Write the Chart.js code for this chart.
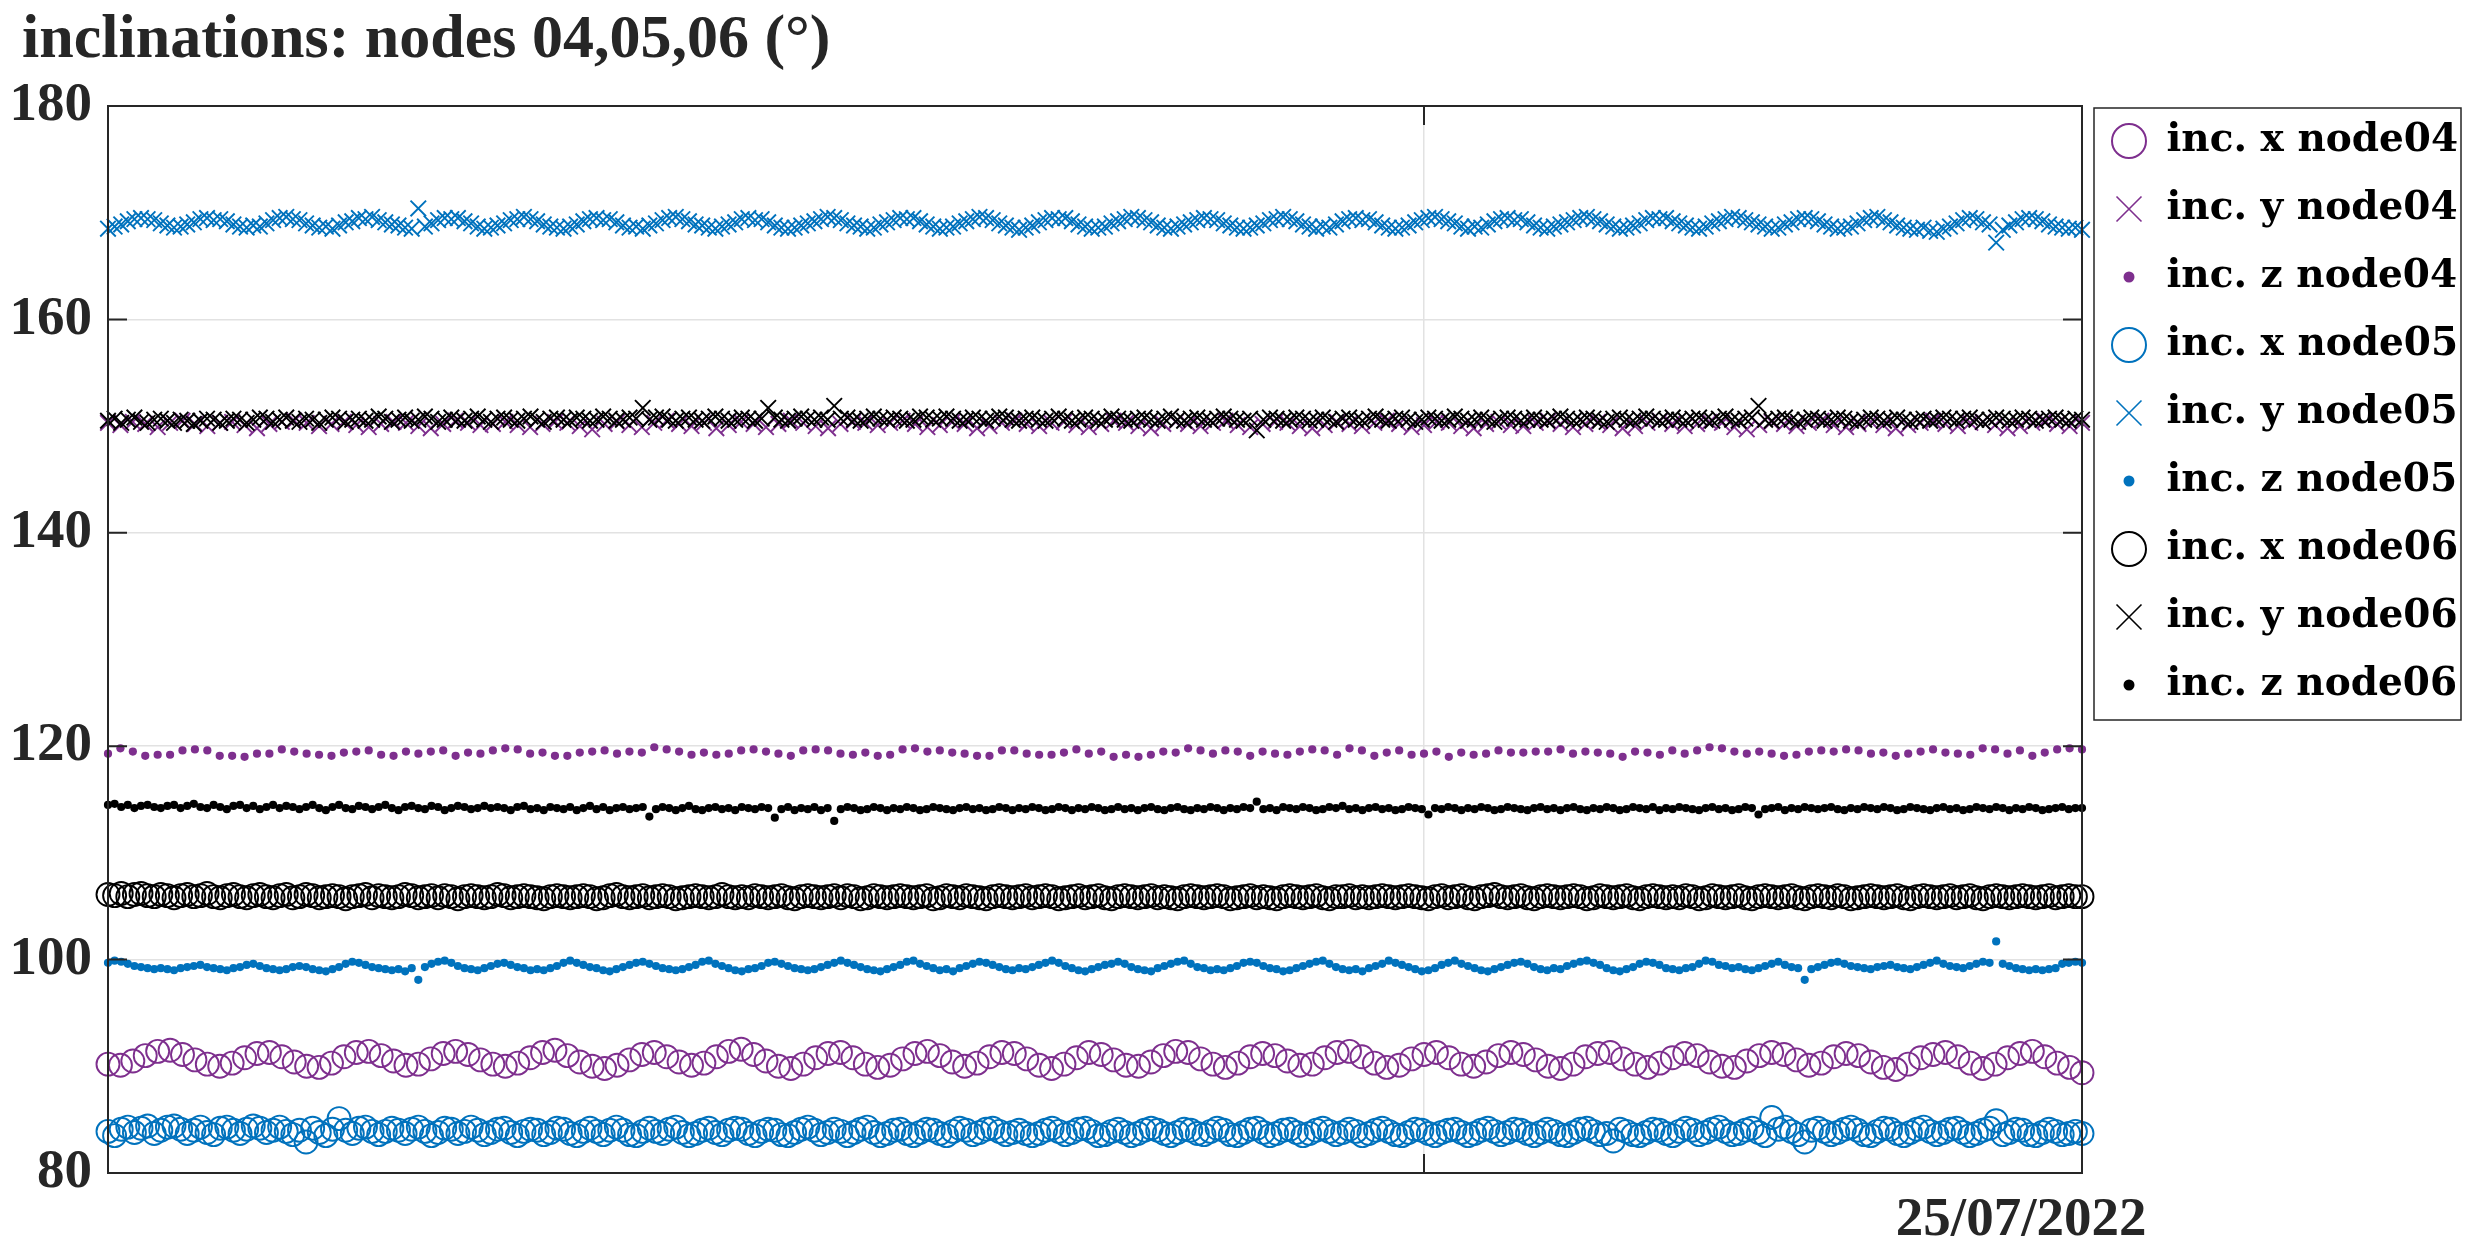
<!DOCTYPE html>
<html>
<head>
<meta charset="utf-8">
<title>inclinations: nodes 04,05,06</title>
<script src="https://cdn.jsdelivr.net/npm/chart.js@4.4.1/dist/chart.umd.min.js"></script>
<style>
	html, body { margin: 0; padding: 0; background: #ffffff; }
	#wrap { width: 2486px; height: 1259px; }
</style>
</head>
<body>
<div id="wrap"><canvas id="chart" width="2486" height="1259"></canvas></div>
<script>
// time axis in hours from the first sample
const xStartHour = 0;
const xEndHour = 24;
const gridHour = 16;
const dateLabelHour = 23.26;
const dateLabel = '25/07/2022';
const yTicks = [80, 100, 120, 140, 160, 180];

// node04 (sparser sampling)
const incXNode04 = [
	90.2, 90.1, 90.5, 91.0, 91.4, 91.5, 91.1, 90.6, 90.2, 90.0, 90.3, 90.8, 91.2, 91.3, 90.9, 90.4, 90.0, 89.9, 90.3, 90.9,
	91.3, 91.4, 91.0, 90.5, 90.1, 90.2, 90.7, 91.2, 91.4, 91.1, 90.6, 90.2, 90.0, 90.3, 90.8, 91.3, 91.5, 91.0, 90.4, 90.0,
	89.8, 90.1, 90.6, 91.1, 91.3, 90.9, 90.4, 90.1, 90.3, 90.9, 91.4, 91.6, 91.1, 90.5, 90.0, 89.8, 90.2, 90.8, 91.2, 91.3,
	90.8, 90.2, 89.9, 90.1, 90.7, 91.2, 91.4, 91.0, 90.4, 90.0, 90.3, 90.9, 91.3, 91.2, 90.7, 90.1, 89.8, 90.2, 90.8, 91.3,
	91.1, 90.6, 90.1, 90.0, 90.4, 91.0, 91.4, 91.3, 90.7, 90.2, 89.9, 90.3, 90.9, 91.2, 91.0, 90.5, 90.1, 90.2, 90.8, 91.3,
	91.4, 90.9, 90.3, 89.9, 90.1, 90.7, 91.1, 91.3, 90.8, 90.2, 90.0, 90.4, 91.0, 91.3, 91.1, 90.6, 90.0, 89.8, 90.2, 90.9,
	91.2, 91.3, 90.7, 90.2, 89.9, 90.3, 90.8, 91.2, 91.0, 90.4, 90.0, 89.9, 90.5, 91.0, 91.3, 91.1, 90.6, 90.1, 90.3, 90.9,
	91.2, 91.0, 90.4, 89.9, 89.7, 90.2, 90.8, 91.1, 91.3, 90.9, 90.3, 89.8, 90.2, 90.8, 91.2, 91.4, 90.9, 90.3, 89.9, 89.4,
];
const incYNode04 = [
	150.3, 150.1, 150.4, 150.2, 149.9, 150.3, 150.5, 150.2, 150.0, 150.3, 150.4, 150.1, 149.8, 150.2, 150.4, 150.5, 150.3, 150.0, 150.2, 150.4,
	150.1, 149.9, 150.2, 150.4, 150.3, 150.0, 149.8, 150.2, 150.5, 150.3, 150.1, 150.2, 150.4, 150.1, 149.9, 150.2, 150.4, 150.3, 150.0, 149.7,
	150.2, 150.4, 150.1, 149.9, 150.3, 150.5, 150.2, 150.0, 150.3, 149.8, 150.1, 150.4, 150.2, 149.9, 150.2, 150.5, 150.3, 150.0, 149.8, 150.2,
	150.4, 150.3, 150.1, 150.3, 150.5, 150.2, 149.9, 150.1, 150.4, 150.2, 149.8, 150.0, 150.3, 150.5, 150.2, 150.0, 150.3, 150.4, 150.1, 149.9,
	150.2, 150.5, 150.3, 150.0, 149.8, 150.2, 150.4, 150.2, 150.0, 150.3, 150.5, 150.1, 149.9, 150.2, 150.4, 150.3, 150.0, 149.8, 150.1, 150.4,
	150.2, 150.0, 150.3, 150.5, 150.2, 149.9, 150.1, 150.4, 150.3, 150.0, 149.8, 150.2, 150.4, 150.1, 150.0, 150.3, 150.5, 150.2, 149.9, 150.2,
	150.4, 150.1, 149.8, 150.0, 150.3, 150.5, 150.2, 150.0, 150.2, 150.4, 150.3, 149.9, 149.7, 150.1, 150.4, 150.2, 150.0, 150.3, 150.5, 150.1,
	149.9, 150.2, 150.4, 150.1, 149.8, 150.1, 150.3, 150.5, 150.2, 150.0, 150.3, 150.4, 150.1, 149.8, 150.0, 150.3, 150.5, 150.2, 150.0, 150.3,
];
const incZNode04 = [
	119.3, 119.8, 119.5, 119.1, 119.2, 119.2, 119.6, 119.7, 119.6, 119.1, 119.1, 119.0, 119.3, 119.3, 119.7, 119.5, 119.3, 119.2, 119.1, 119.4,
	119.5, 119.6, 119.2, 119.1, 119.5, 119.3, 119.5, 119.6, 119.1, 119.4, 119.3, 119.6, 119.8, 119.7, 119.3, 119.4, 119.1, 119.1, 119.4, 119.5,
	119.6, 119.3, 119.5, 119.4, 119.9, 119.7, 119.5, 119.2, 119.4, 119.2, 119.3, 119.6, 119.7, 119.5, 119.3, 119.1, 119.6, 119.7, 119.6, 119.3,
	119.2, 119.4, 119.1, 119.2, 119.7, 119.8, 119.5, 119.6, 119.4, 119.3, 119.1, 119.1, 119.6, 119.6, 119.3, 119.2, 119.2, 119.4, 119.7, 119.3,
	119.5, 119.0, 119.2, 119.0, 119.2, 119.5, 119.4, 119.8, 119.6, 119.3, 119.6, 119.5, 119.1, 119.5, 119.3, 119.2, 119.5, 119.7, 119.6, 119.2,
	119.8, 119.6, 119.1, 119.4, 119.6, 119.2, 119.3, 119.5, 119.0, 119.4, 119.2, 119.3, 119.6, 119.4, 119.4, 119.5, 119.5, 119.7, 119.3, 119.5,
	119.4, 119.3, 119.0, 119.5, 119.4, 119.2, 119.6, 119.3, 119.6, 119.9, 119.8, 119.5, 119.3, 119.5, 119.3, 119.1, 119.2, 119.5, 119.6, 119.5,
	119.7, 119.6, 119.3, 119.4, 119.1, 119.3, 119.5, 119.7, 119.4, 119.3, 119.2, 119.8, 119.7, 119.3, 119.6, 119.1, 119.4, 119.7, 119.8, 119.7,
];

// node05
const incXNode05 = [
	83.9, 83.5, 84.1, 84.3, 83.8, 84.2, 84.4, 83.7, 84.0, 84.3, 84.4, 84.1, 83.7, 84.0, 84.3, 83.8, 83.6, 84.2, 84.3, 84.0,
	83.7, 84.1, 84.4, 84.2, 83.8, 84.0, 84.3, 83.9, 83.6, 84.0, 82.9, 84.2, 83.8, 83.5, 84.1, 85.1, 84.0, 83.7, 84.2, 84.3,
	83.9, 83.6, 83.9, 84.2, 84.0, 83.7, 84.1, 84.3, 83.9, 83.5, 83.8, 84.2, 84.1, 83.7, 83.9, 84.3, 84.0, 83.6, 83.8, 84.1,
	84.2, 83.8, 83.5, 83.9, 84.1, 84.0, 83.6, 83.8, 84.2, 84.1, 83.7, 83.5, 83.9, 84.2, 83.9, 83.6, 84.0, 84.3, 84.0, 83.6,
	83.5, 83.9, 84.2, 83.9, 83.7, 84.1, 84.3, 83.8, 83.5, 83.7, 84.0, 84.2, 83.8, 83.6, 84.0, 84.2, 84.1, 83.7, 83.5, 83.9,
	84.1, 84.0, 83.6, 83.5, 83.8, 84.1, 84.3, 84.0, 83.6, 83.8, 84.1, 83.9, 83.5, 83.8, 84.1, 84.3, 83.8, 83.5, 83.7, 84.0,
	84.1, 83.7, 83.5, 83.8, 84.1, 84.0, 83.7, 83.5, 83.9, 84.2, 84.0, 83.6, 83.8, 84.1, 84.2, 83.9, 83.6, 83.8, 84.0, 83.7,
	83.5, 83.7, 84.0, 84.2, 83.9, 83.6, 83.8, 84.1, 84.2, 83.9, 83.5, 83.6, 83.9, 84.1, 83.8, 83.5, 83.7, 84.0, 84.2, 84.0,
	83.7, 83.5, 83.8, 84.1, 84.0, 83.7, 83.6, 83.9, 84.2, 84.0, 83.6, 83.5, 83.8, 84.1, 84.2, 83.8, 83.5, 83.7, 84.0, 84.1,
	83.8, 83.5, 83.7, 84.0, 84.2, 83.9, 83.6, 83.8, 84.1, 83.9, 83.5, 83.7, 84.0, 84.2, 83.9, 83.6, 83.5, 83.8, 84.1, 84.0,
	83.7, 83.5, 83.8, 84.0, 84.1, 83.8, 83.5, 83.7, 84.0, 84.2, 83.9, 83.6, 83.8, 84.1, 84.0, 83.7, 83.5, 83.8, 84.1, 83.9,
	83.6, 83.5, 83.8, 84.1, 84.2, 83.9, 83.6, 83.7, 83.0, 84.1, 83.9, 83.6, 83.5, 83.8, 84.1, 84.0, 83.7, 83.5, 83.9, 84.2,
	84.0, 83.6, 83.8, 84.1, 84.3, 83.9, 83.6, 83.7, 84.0, 84.2, 83.8, 83.5, 85.2, 84.1, 84.3, 83.9, 83.6, 82.9, 84.0, 84.2,
	83.9, 83.6, 83.8, 84.1, 84.3, 84.0, 83.6, 83.5, 83.9, 84.2, 84.1, 83.7, 83.5, 83.8, 84.1, 84.3, 83.9, 83.6, 83.8, 84.1,
	84.2, 83.8, 83.5, 83.7, 84.0, 84.2, 84.9, 83.6, 83.8, 84.1, 84.0, 83.6, 83.5, 83.8, 84.1, 83.9, 83.6, 83.7, 83.9, 83.7,
];
const incYNode05 = [
	168.5, 168.7, 168.9, 169.2, 169.4, 169.5, 169.4, 169.3, 169.0, 168.8, 168.6, 168.7,
	168.9, 169.1, 169.4, 169.5, 169.3, 169.4, 169.2, 168.9, 168.7, 168.6, 168.8, 168.7,
	169.0, 169.3, 169.5, 169.6, 169.4, 169.3, 169.0, 168.8, 168.6, 168.7, 168.5, 168.8,
	169.1, 169.2, 169.5, 169.4, 169.6, 169.3, 169.1, 168.9, 168.8, 168.6, 168.5, 170.4,
	168.7, 169.0, 169.3, 169.5, 169.4, 169.5, 169.2, 169.0, 168.7, 168.5, 168.6, 168.8,
	169.0, 169.3, 169.4, 169.6, 169.4, 169.2, 168.9, 168.7, 168.6, 168.5, 168.7, 168.9,
	169.2, 169.4, 169.5, 169.3, 169.4, 169.1, 168.8, 168.6, 168.7, 168.5, 168.8, 169.0,
	169.3, 169.5, 169.6, 169.4, 169.2, 168.9, 168.8, 168.6, 168.5, 168.7, 168.9, 169.1,
	169.4, 169.5, 169.3, 169.4, 169.1, 168.8, 168.6, 168.5, 168.6, 168.8, 169.0, 169.2,
	169.4, 169.6, 169.5, 169.3, 169.0, 168.8, 168.7, 168.5, 168.6, 168.9, 169.1, 169.3,
	169.5, 169.4, 169.5, 169.2, 168.9, 168.7, 168.5, 168.6, 168.7, 169.0, 169.2, 169.4,
	169.6, 169.5, 169.3, 169.0, 168.8, 168.6, 168.4, 168.6, 168.8, 169.1, 169.3, 169.5,
	169.4, 169.5, 169.2, 168.9, 168.7, 168.5, 168.6, 168.7, 169.0, 169.2, 169.4, 169.6,
	169.5, 169.3, 169.1, 168.8, 168.6, 168.5, 168.7, 168.9, 169.1, 169.3, 169.5, 169.4,
	169.3, 169.0, 168.8, 168.6, 168.5, 168.6, 168.8, 169.0, 169.3, 169.4, 169.6, 169.4,
	169.2, 168.9, 168.7, 168.5, 168.7, 168.6, 168.9, 169.2, 169.4, 169.5, 169.3, 169.4,
	169.1, 168.8, 168.6, 168.5, 168.6, 168.8, 169.1, 169.3, 169.5, 169.6, 169.4, 169.2,
	169.0, 168.7, 168.5, 168.7, 168.6, 168.9, 169.2, 169.4, 169.5, 169.3, 169.4, 169.1,
	168.8, 168.6, 168.5, 168.7, 168.9, 169.1, 169.3, 169.5, 169.6, 169.4, 169.2, 168.9,
	168.7, 168.5, 168.6, 168.8, 169.0, 169.3, 169.5, 169.4, 169.5, 169.2, 169.0, 168.8,
	168.6, 168.5, 168.7, 169.0, 169.2, 169.4, 169.6, 169.5, 169.3, 169.1, 168.9, 168.7,
	168.5, 168.6, 168.9, 169.1, 169.4, 169.5, 169.4, 169.2, 168.9, 168.7, 168.5, 168.6,
	168.7, 169.0, 169.3, 169.5, 169.6, 169.3, 169.1, 168.8, 168.6, 168.5, 168.4, 168.6,
	168.3, 168.2, 168.5, 168.7, 169.0, 169.3, 169.5, 169.4, 169.1, 168.9, 167.2, 168.4,
	168.8, 169.1, 169.4, 169.5, 169.4, 169.2, 168.9, 168.7, 168.6, 168.5, 168.6, 168.4,
];
const incZNode05 = [
	99.7, 99.9, 99.8, 99.6, 99.4, 99.3, 99.2, 99.1, 99.2, 99.1, 99.0, 99.2,
	99.3, 99.4, 99.5, 99.3, 99.2, 99.1, 99.0, 99.2, 99.3, 99.5, 99.6, 99.4,
	99.2, 99.1, 99.0, 99.1, 99.3, 99.4, 99.3, 99.1, 99.0, 98.9, 99.1, 99.3,
	99.6, 99.8, 99.7, 99.5, 99.3, 99.2, 99.1, 99.0, 99.1, 98.9, 99.2, 98.1,
	99.3, 99.6, 99.8, 99.9, 99.7, 99.4, 99.2, 99.1, 99.0, 99.2, 99.4, 99.6,
	99.7, 99.5, 99.3, 99.2, 99.0, 99.1, 99.0, 99.2, 99.4, 99.7, 99.9, 99.7,
	99.5, 99.3, 99.2, 99.0, 98.9, 99.1, 99.3, 99.5, 99.7, 99.8, 99.6, 99.4,
	99.2, 99.1, 99.0, 99.1, 99.3, 99.5, 99.8, 99.9, 99.6, 99.4, 99.2, 99.0,
	98.9, 99.1, 99.2, 99.4, 99.7, 99.8, 99.6, 99.4, 99.2, 99.1, 99.0, 99.1,
	99.3, 99.5, 99.7, 99.9, 99.7, 99.5, 99.3, 99.1, 99.0, 98.9, 99.1, 99.3,
	99.5, 99.8, 99.9, 99.6, 99.4, 99.2, 99.0, 99.1, 98.9, 99.2, 99.4, 99.6,
	99.8, 99.7, 99.5, 99.3, 99.1, 99.0, 99.2, 99.1, 99.3, 99.5, 99.7, 99.9,
	99.7, 99.4, 99.2, 99.0, 98.9, 99.1, 99.3, 99.5, 99.6, 99.8, 99.6, 99.3,
	99.1, 99.0, 98.9, 99.2, 99.4, 99.6, 99.8, 99.9, 99.6, 99.3, 99.2, 99.0,
	99.1, 99.0, 99.2, 99.4, 99.7, 99.8, 99.7, 99.4, 99.2, 99.1, 98.9, 99.0,
	99.2, 99.4, 99.6, 99.8, 99.9, 99.6, 99.3, 99.1, 99.0, 99.1, 98.9, 99.2,
	99.4, 99.6, 99.9, 99.7, 99.5, 99.3, 99.1, 98.9, 99.0, 99.2, 99.5, 99.7,
	99.9, 99.6, 99.4, 99.2, 99.0, 98.9, 99.1, 99.3, 99.5, 99.7, 99.8, 99.6,
	99.3, 99.1, 99.0, 99.2, 99.1, 99.4, 99.6, 99.8, 99.9, 99.7, 99.5, 99.2,
	99.0, 98.9, 99.1, 99.3, 99.6, 99.8, 99.7, 99.5, 99.2, 99.1, 99.0, 99.2,
	99.3, 99.6, 99.9, 99.8, 99.5, 99.4, 99.2, 99.3, 99.1, 99.0, 99.2, 99.4,
	99.6, 99.8, 99.5, 99.3, 99.2, 98.1, 99.1, 99.3, 99.5, 99.7, 99.8, 99.6,
	99.4, 99.3, 99.2, 99.1, 99.3, 99.4, 99.5, 99.3, 99.2, 99.1, 99.3, 99.5,
	99.7, 99.9, 99.6, 99.4, 99.3, 99.2, 99.4, 99.6, 99.8, 99.7, 101.7, 99.6,
	99.4, 99.2, 99.1, 99.0, 99.1, 99.0, 99.1, 99.2, 99.6, 99.7, 99.8, 99.7,
];

// node06
const incXNode06 = [
	106.1, 106.0, 106.2, 105.9, 106.1, 106.2, 106.0, 105.9, 106.1, 106.0, 105.8, 106.0, 106.1, 105.9, 106.0, 106.2, 105.9, 105.8, 106.0, 106.1,
	105.9, 105.8, 106.0, 106.1, 105.9, 105.8, 106.0, 106.1, 105.8, 105.9, 106.1, 106.0, 105.8, 105.9, 106.0, 105.9, 105.7, 105.9, 106.0, 106.1,
	105.8, 106.0, 105.9, 105.8, 105.9, 106.1, 106.0, 105.8, 105.9, 106.0, 105.8, 106.0, 105.9, 105.7, 105.9, 106.0, 105.9, 105.8, 105.9, 106.1,
	106.0, 105.8, 105.9, 106.0, 105.9, 105.8, 105.7, 105.9, 106.0, 105.9, 105.8, 105.9, 106.0, 105.9, 105.7, 105.8, 106.0, 106.1, 105.9, 105.8,
	105.9, 106.0, 105.8, 105.9, 106.0, 105.9, 105.7, 105.8, 105.9, 106.0, 105.9, 105.8, 105.9, 106.1, 105.9, 105.8, 105.9, 105.8, 106.0, 105.9,
	105.8, 105.9, 106.0, 105.8, 105.7, 105.9, 106.0, 105.9, 105.8, 105.9, 106.0, 105.8, 106.0, 105.9, 105.7, 105.8, 106.0, 105.9, 105.8, 105.9,
	106.0, 105.9, 105.8, 105.9, 106.0, 105.7, 105.8, 106.0, 105.9, 105.8, 106.0, 105.9, 105.8, 105.7, 105.9, 106.0, 105.9, 105.8, 105.9, 106.0,
	105.8, 105.9, 106.0, 105.9, 105.7, 105.8, 105.9, 106.0, 105.8, 105.9, 106.0, 105.8, 105.7, 105.9, 106.0, 105.9, 105.8, 105.9, 106.0, 105.8,
	105.9, 105.8, 105.7, 105.9, 106.0, 105.9, 105.8, 105.9, 106.0, 105.9, 105.7, 105.8, 105.9, 106.0, 105.8, 105.9, 105.8, 105.7, 105.9, 106.0,
	105.9, 105.8, 105.9, 106.0, 105.8, 105.7, 105.9, 105.9, 106.0, 105.8, 105.9, 105.8, 105.9, 106.0, 105.9, 105.8, 105.9, 106.0, 105.9, 105.8,
	105.7, 105.9, 106.0, 105.8, 105.9, 106.0, 105.8, 105.7, 105.9, 106.0, 106.1, 105.9, 105.8, 105.9, 106.0, 105.8, 105.7, 105.9, 106.0, 105.9,
	105.8, 105.9, 106.0, 105.9, 105.7, 105.8, 106.0, 105.9, 105.8, 105.9, 106.0, 105.8, 105.7, 105.9, 106.0, 105.9, 105.8, 105.9, 105.8, 106.0,
	105.9, 105.7, 105.8, 106.0, 105.9, 105.8, 105.9, 106.0, 105.8, 105.7, 105.9, 106.0, 105.9, 105.8, 105.9, 106.0, 105.8, 105.7, 105.9, 106.0,
	105.9, 105.8, 106.0, 105.9, 105.7, 105.8, 105.9, 106.0, 105.9, 105.8, 105.9, 106.0, 105.8, 105.7, 105.9, 106.0, 105.9, 105.8, 105.9, 106.0,
	105.8, 105.9, 106.0, 105.8, 105.7, 105.9, 106.0, 105.9, 105.8, 105.9, 106.0, 105.9, 105.8, 105.9, 106.0, 105.8, 105.9, 106.0, 105.9, 105.9,
];
const incYNode06 = [
	150.5, 150.7, 150.3, 150.6, 150.8, 150.4, 150.3, 150.6, 150.7, 150.5, 150.3, 150.6, 150.5, 150.2, 150.5, 150.7, 150.6, 150.3, 150.5, 150.7,
	150.6, 150.3, 150.6, 150.8, 150.7, 150.4, 150.6, 150.8, 150.5, 150.4, 150.7, 150.6, 150.3, 150.6, 150.8, 150.7, 150.4, 150.6, 150.7, 150.5,
	150.6, 150.9, 150.7, 150.4, 150.6, 150.8, 150.5, 150.6, 150.9, 150.7, 150.4, 150.6, 150.8, 150.6, 150.5, 150.7, 150.9, 150.6, 150.4, 150.7,
	150.8, 150.6, 150.5, 150.7, 150.9, 150.6, 150.4, 150.7, 150.8, 150.6, 150.5, 150.8, 150.7, 150.5, 150.6, 150.9, 150.7, 150.5, 150.6, 150.8,
	150.7, 151.7, 150.6, 150.8, 150.9, 150.6, 150.5, 150.7, 150.8, 150.6, 150.5, 150.7, 150.9, 150.7, 150.5, 150.6, 150.8, 150.7, 150.5, 150.7,
	151.7, 150.8, 150.6, 150.5, 150.7, 150.9, 150.7, 150.6, 150.8, 150.6, 151.9, 150.7, 150.8, 150.6, 150.5, 150.7, 150.9, 150.7, 150.6, 150.8,
	150.7, 150.5, 150.6, 150.9, 150.8, 150.6, 150.7, 150.9, 150.7, 150.5, 150.6, 150.8, 150.7, 150.5, 150.7, 150.9, 150.8, 150.6, 150.5, 150.7,
	150.8, 150.6, 150.5, 150.7, 150.9, 150.7, 150.5, 150.6, 150.8, 150.7, 150.5, 150.6, 150.9, 150.7, 150.6, 150.5, 150.7, 150.8, 150.6, 150.5,
	150.7, 150.9, 150.6, 150.5, 150.7, 150.8, 150.6, 150.5, 150.7, 150.9, 150.7, 150.6, 150.5, 150.7, 149.6, 150.6, 150.8, 150.7, 150.5, 150.6,
	150.8, 150.7, 150.5, 150.6, 150.8, 150.6, 150.4, 150.7, 150.8, 150.6, 150.5, 150.7, 150.9, 150.6, 150.5, 150.7, 150.8, 150.6, 150.4, 150.6,
	150.8, 150.7, 150.5, 150.6, 150.9, 150.7, 150.5, 150.6, 150.8, 150.6, 150.4, 150.7, 150.8, 150.7, 150.5, 150.6, 150.8, 150.6, 150.5, 150.7,
	150.9, 150.7, 150.5, 150.6, 150.8, 150.7, 150.5, 150.4, 150.7, 150.8, 150.6, 150.5, 150.7, 150.9, 150.7, 150.5, 150.6, 150.8, 150.6, 150.5,
	150.7, 150.8, 150.6, 150.5, 150.7, 150.9, 150.6, 150.5, 150.7, 150.8, 151.9, 150.6, 150.5, 150.7, 150.8, 150.6, 150.4, 150.6, 150.8, 150.7,
	150.5, 150.6, 150.8, 150.7, 150.5, 150.4, 150.6, 150.8, 150.7, 150.5, 150.6, 150.8, 150.6, 150.4, 150.6, 150.7, 150.5, 150.6, 150.8, 150.7,
	150.5, 150.7, 150.8, 150.6, 150.4, 150.6, 150.8, 150.7, 150.5, 150.6, 150.8, 150.7, 150.5, 150.6, 150.7, 150.8, 150.6, 150.5, 150.7, 150.6,
];
const incZNode06 = [
	114.5, 114.6, 114.3, 114.5, 114.2, 114.4, 114.5, 114.3, 114.2, 114.4, 114.5, 114.2, 114.4, 114.6, 114.3, 114.2, 114.5, 114.3, 114.1, 114.4,
	114.5, 114.2, 114.4, 114.1, 114.3, 114.5, 114.2, 114.4, 114.3, 114.1, 114.3, 114.5, 114.2, 114.0, 114.3, 114.5, 114.2, 114.1, 114.4, 114.3,
	114.1, 114.3, 114.5, 114.2, 114.0, 114.3, 114.4, 114.2, 114.1, 114.4, 114.3, 114.0, 114.2, 114.4, 114.3, 114.1, 114.2, 114.4, 114.2, 114.3,
	114.2, 114.0, 114.3, 114.4, 114.1, 114.2, 114.0, 114.3, 114.2, 114.1, 114.3, 114.0, 114.2, 114.4, 114.1, 114.3, 114.0, 114.2, 114.3, 114.1,
	114.2, 114.3, 113.4, 114.1, 114.3, 114.2, 114.0, 114.2, 114.4, 114.1, 114.0, 114.2, 114.3, 114.1, 114.2, 114.0, 114.3, 114.2, 114.1, 114.3,
	114.2, 113.3, 114.1, 114.3, 114.0, 114.2, 114.1, 114.3, 114.0, 114.2, 113.0, 114.1, 114.3, 114.2, 114.0, 114.1, 114.3, 114.2, 114.0, 114.2,
	114.1, 114.3, 114.2, 114.0, 114.1, 114.3, 114.2, 114.1, 114.0, 114.2, 114.3, 114.1, 114.2, 114.0, 114.1, 114.3, 114.2, 114.0, 114.2, 114.1,
	114.3, 114.2, 114.0, 114.1, 114.3, 114.2, 114.0, 114.2, 114.1, 114.3, 114.2, 114.0, 114.1, 114.3, 114.1, 114.2, 114.0, 114.2, 114.3, 114.1,
	114.0, 114.2, 114.3, 114.1, 114.0, 114.2, 114.1, 114.3, 114.2, 114.0, 114.2, 114.1, 114.3, 114.2, 114.8, 114.1, 114.2, 114.0, 114.3, 114.2,
	114.1, 114.3, 114.2, 114.0, 114.1, 114.3, 114.2, 114.4, 114.1, 114.2, 114.0, 114.2, 114.3, 114.1, 114.2, 114.0, 114.1, 114.3, 114.2, 114.1,
	113.6, 114.2, 114.1, 114.3, 114.2, 114.0, 114.2, 114.1, 114.3, 114.2, 114.0, 114.1, 114.3, 114.2, 114.1, 114.0, 114.2, 114.3, 114.1, 114.2,
	114.0, 114.2, 114.3, 114.1, 114.0, 114.2, 114.1, 114.3, 114.2, 114.0, 114.1, 114.3, 114.2, 114.1, 114.3, 114.0, 114.2, 114.1, 114.3, 114.2,
	114.1, 114.0, 114.2, 114.3, 114.1, 114.2, 114.0, 114.1, 114.3, 114.2, 113.6, 114.1, 114.2, 114.3, 114.0, 114.2, 114.1, 114.3, 114.2, 114.1,
	114.2, 114.3, 114.1, 114.0, 114.2, 114.1, 114.3, 114.2, 114.1, 114.3, 114.2, 114.0, 114.1, 114.3, 114.2, 114.1, 114.0, 114.2, 114.3, 114.1,
	114.2, 114.0, 114.1, 114.3, 114.2, 114.1, 114.3, 114.2, 114.0, 114.2, 114.1, 114.3, 114.2, 114.0, 114.1, 114.2, 114.3, 114.1, 114.2, 114.2,
];

const AXIS_COLOR = '#262626';
const GRID_COLOR = '#e2e2e2';
const PURPLE = '#7e2f8e';
const BLUE = '#0072bd';
const BLACK = '#000000';
const TICK_LEN = 19;
const LEGEND_W = 404;
const LEGEND_SHIFT = 13.5;

const series = [
	{ label: 'inc. x node04', values: incXNode04, color: PURPLE, kind: 'circle' },
	{ label: 'inc. y node04', values: incYNode04, color: PURPLE, kind: 'cross' },
	{ label: 'inc. z node04', values: incZNode04, color: PURPLE, kind: 'dot' },
	{ label: 'inc. x node05', values: incXNode05, color: BLUE, kind: 'circle' },
	{ label: 'inc. y node05', values: incYNode05, color: BLUE, kind: 'cross' },
	{ label: 'inc. z node05', values: incZNode05, color: BLUE, kind: 'dot' },
	{ label: 'inc. x node06', values: incXNode06, color: BLACK, kind: 'circle' },
	{ label: 'inc. y node06', values: incYNode06, color: BLACK, kind: 'cross' },
	{ label: 'inc. z node06', values: incZNode06, color: BLACK, kind: 'dot' },
];

const markerStyle = {
	circle: { pointStyle: 'circle', radius: 11.5, width: 1.9 },
	cross: { pointStyle: 'crossRot', radius: 11, width: 1.9 },
	dot: { pointStyle: 'circle', radius: 4.1, width: 0 },
};

function toPoints(values) {
	const step = (xEndHour - xStartHour) / (values.length - 1);
	return values.map((v, i) => ({ x: xStartHour + i * step, y: v }));
}

// legend markers are drawn bigger than the plot markers, as in the original
function legendMarker(kind, color) {
	const c = document.createElement('canvas');
	c.width = 40;
	c.height = 40;
	const ctx = c.getContext('2d');
	ctx.strokeStyle = color;
	ctx.fillStyle = color;
	ctx.beginPath();
	if (kind === 'circle') {
		ctx.lineWidth = 2;
		ctx.arc(20, 20, 17, 0, Math.PI * 2);
		ctx.stroke();
	} else if (kind === 'cross') {
		ctx.lineWidth = 1.6;
		ctx.moveTo(7.5, 7.5);
		ctx.lineTo(32.5, 32.5);
		ctx.moveTo(32.5, 7.5);
		ctx.lineTo(7.5, 32.5);
		ctx.stroke();
	} else {
		ctx.arc(20, 20, 5.5, 0, Math.PI * 2);
		ctx.fill();
	}
	return c;
}

const legendMarkers = series.map((s) => legendMarker(s.kind, s.color));

const axesFrame = {
	id: 'axesFrame',
	beforeLayout(chart) {
		const lg = chart.legend;
		if (lg && !lg._fixedWidth) {
			const fit = lg.fit;
			lg.fit = function () {
				fit.call(this);
				this.width = LEGEND_W;
			};
			lg._fixedWidth = true;
		}
	},
	afterLayout(chart) {
		chart.legend.top -= LEGEND_SHIFT;
		chart.legend.bottom -= LEGEND_SHIFT;
		if (chart.titleBlock) chart.titleBlock.left = 22;
	},
	afterDraw(chart) {
		const { ctx, chartArea: a, scales } = chart;
		ctx.save();
		ctx.strokeStyle = AXIS_COLOR;
		ctx.lineWidth = 2;
		ctx.strokeRect(a.left, a.top, a.right - a.left, a.bottom - a.top);

		// inward tick marks
		ctx.beginPath();
		yTicks.forEach((v) => {
			const y = scales.y.getPixelForValue(v);
			ctx.moveTo(a.left, y);
			ctx.lineTo(a.left + TICK_LEN, y);
			ctx.moveTo(a.right, y);
			ctx.lineTo(a.right - TICK_LEN, y);
		});
		const gx = scales.x.getPixelForValue(gridHour);
		ctx.moveTo(gx, a.top);
		ctx.lineTo(gx, a.top + TICK_LEN);
		ctx.moveTo(gx, a.bottom);
		ctx.lineTo(gx, a.bottom - TICK_LEN);
		ctx.stroke();

		// legend box
		const lg = chart.legend;
		ctx.lineWidth = 1.5;
		ctx.strokeRect(lg.left + 12, lg.top + 15.5, 367, 612);
		ctx.restore();
	},
};

const tickFont = { family: 'Liberation Serif', weight: 'bold', size: 55 };

document.addEventListener('DOMContentLoaded', () => {
	const el = document.getElementById('chart');

	const datasets = series.map((s, i) => {
		const m = markerStyle[s.kind];
		return {
			label: s.label,
			data: toPoints(s.values),
			order: series.length - i,
			clip: false,
			pointStyle: m.pointStyle,
			pointRadius: m.radius,
			pointHoverRadius: m.radius,
			pointBorderWidth: m.width,
			pointBorderColor: s.color,
			pointBackgroundColor: s.kind === 'dot' ? s.color : 'rgba(0,0,0,0)',
			borderColor: s.color,
			backgroundColor: s.kind === 'dot' ? s.color : 'rgba(0,0,0,0)',
		};
	});

	// eslint-disable-next-line no-new
	new Chart(el, {
		type: 'scatter',
		data: { datasets },
		plugins: [axesFrame],
		options: {
			responsive: false,
			animation: false,
			devicePixelRatio: 1,
			events: [],
			layout: { padding: 0 },
			plugins: {
				title: {
					display: true,
					text: 'inclinations: nodes 04,05,06 (°)',
					align: 'start',
					color: AXIS_COLOR,
					font: { family: 'Liberation Serif', weight: 'bold', size: 62, lineHeight: 1.2 },
					padding: { top: 4, bottom: 27.6 },
				},
				legend: {
					position: 'right',
					align: 'start',
					fullSize: false,
					labels: {
						usePointStyle: true,
						pointStyleWidth: 36,
						padding: 29,
						color: '#000000',
						font: { family: 'DejaVu Serif', weight: 'bold', size: 39 },
						generateLabels: () => series.map((s, i) => ({
							text: s.label,
							pointStyle: legendMarkers[i],
							fillStyle: s.color,
							strokeStyle: s.color,
							lineWidth: 0,
							hidden: false,
							datasetIndex: i,
							fontColor: '#000000',
						})),
					},
				},
				tooltip: { enabled: false },
			},
			scales: {
				x: {
					type: 'linear',
					min: xStartHour,
					max: xEndHour,
					afterBuildTicks: (scale) => {
						scale.ticks = [{ value: gridHour }, { value: dateLabelHour }];
					},
					afterFit: (scale) => {
						scale.height = 86;
					},
					ticks: {
						autoSkip: false,
						maxRotation: 0,
						padding: 15,
						color: AXIS_COLOR,
						font: tickFont,
						callback: (v) => (v === dateLabelHour ? dateLabel : ''),
					},
					grid: {
						drawTicks: false,
						lineWidth: 1.5,
						color: (ctx) => (ctx.tick && ctx.tick.value === gridHour ? GRID_COLOR : 'rgba(0,0,0,0)'),
					},
					border: { color: AXIS_COLOR, width: 2 },
				},
				y: {
					min: 80,
					max: 180,
					afterBuildTicks: (scale) => {
						scale.ticks = yTicks.map((v) => ({ value: v }));
					},
					afterFit: (scale) => {
						scale.width = 108;
					},
					ticks: {
						padding: 16,
						color: AXIS_COLOR,
						font: tickFont,
					},
					grid: { drawTicks: false, color: GRID_COLOR, lineWidth: 1.5 },
					border: { color: AXIS_COLOR, width: 2 },
				},
			},
		},
	});
});
</script>
</body>
</html>
